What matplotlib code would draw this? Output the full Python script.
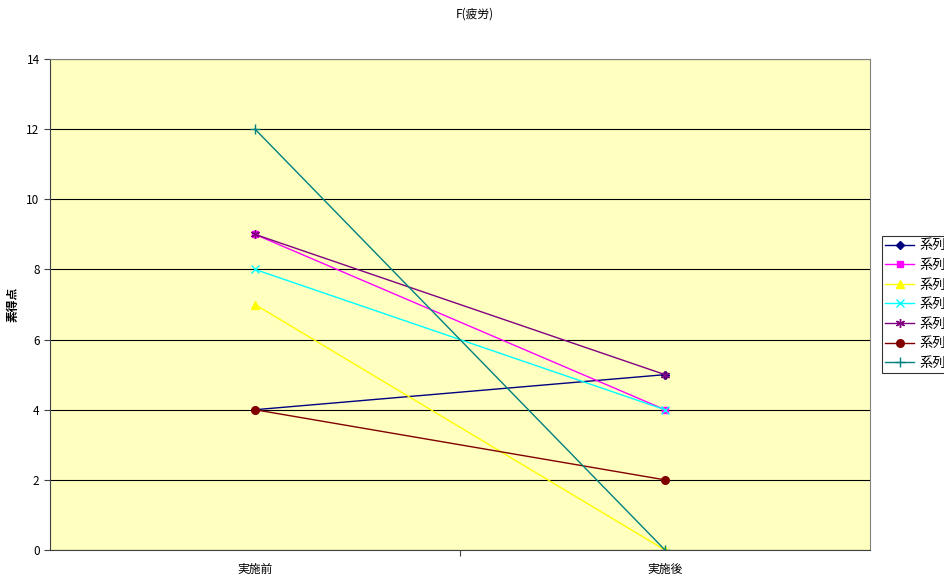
import matplotlib
matplotlib.use("Agg")
import matplotlib.pyplot as plt

plt.rcParams['font.family'] = ['Noto Sans CJK JP', 'DejaVu Sans']

# 実施前 / 実施後 の素得点
categories = ["実施前", "実施後"]
series_names = ["系列1", "系列2", "系列3", "系列4", "系列5", "系列6", "系列7"]
s1 = [4, 5]
s2 = [9, 4]
s3 = [7, 0]
s4 = [8, 4]
s5 = [9, 5]
s6 = [4, 2]
s7 = [12, 0]

styles = [
    ("#000080", "D", 4.5),
    ("#FF00FF", "s", 5),
    ("#FFFF00", "^", 5.5),
    ("#00FFFF", "x", 5.5),
    ("#800080", (6, 2, 0), 6.5),
    ("#800000", "o", 5.5),
    ("#008080", "+", 6.5),
]

fig = plt.figure(figsize=(9.44, 5.78), dpi=100)
ax = fig.add_axes([50 / 944, 28 / 578, 820 / 944, 491 / 578])
ax.set_facecolor("#FFFFC0")

x = range(len(categories))
for vals, name, (col, mk, ms) in zip([s1, s2, s3, s4, s5, s6, s7], series_names, styles):
    ax.plot(x, vals, color=col, marker=mk, markersize=ms, linewidth=1,
            markeredgecolor=col, markerfacecolor=col, label=name)

ax.set_xlim(-0.5, 1.5)
ax.set_ylim(0, 14)
ax.set_yticks(range(0, 15, 2))
ax.yaxis.grid(True, color="black", linewidth=0.8)
ax.set_axisbelow(True)
ax.set_xticks([0.5])
ax.set_xticklabels([""])
for i, c in enumerate(categories):
    ax.text(i, -0.38, c, ha="center", va="top", fontsize=8.5)
ax.tick_params(axis="both", direction="out", length=4, width=0.8, colors="#404040",
               labelsize=8.5, labelcolor="black")
for sp in ax.spines.values():
    sp.set_color("#808080")
ax.spines["left"].set_color("#404040")
ax.spines["bottom"].set_color("#404040")

ax.set_ylabel("素得点", fontsize=8.5, fontweight="bold")
ax.yaxis.set_label_coords(-(50 - 20) / 820, 0.5)
fig.text(475 / 944, 1 - 14 / 578, "F(疲労)", ha="center", va="center", fontsize=8.5)

leg = ax.legend(loc="upper left", bbox_to_anchor=(882 / 944, 1 - 236 / 578),
                bbox_transform=fig.transFigure, fontsize=9.5, frameon=True,
                fancybox=False, edgecolor="black", handlelength=2.2,
                borderaxespad=0, labelspacing=0.5, handletextpad=0.4,
                borderpad=0.25)
leg.get_frame().set_linewidth(0.8)

fig.savefig("out.png", dpi=100)
